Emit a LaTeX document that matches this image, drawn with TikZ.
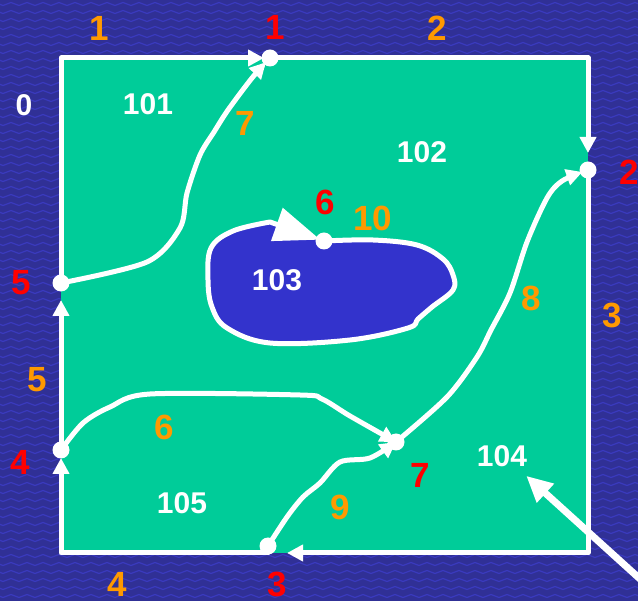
\documentclass[tikz,border=0pt]{standalone}
\usepackage{fontspec}
\setmainfont{Liberation Sans}
\usetikzlibrary{arrows.meta,decorations.pathmorphing}
\definecolor{slideblue}{RGB}{48,48,150}
\definecolor{waveblue}{RGB}{58,58,190}
\definecolor{regiongreen}{RGB}{0,204,153}
\definecolor{holeblue}{RGB}{51,51,204}
\definecolor{edgeorange}{RGB}{255,153,0}
\definecolor{vertexred}{RGB}{255,0,0}

\tikzset{
  vtx/.style={circle, fill=white, inner sep=0pt, minimum size=17pt},
  edge/.style={white, line width=5pt, line cap=round, line join=round},
  arr/.style={-{Triangle[length=16pt,width=16pt]}},
  vlab/.style={text=vertexred, inner sep=1pt, font=\fontsize{35}{35}\selectfont\bfseries},
  elab/.style={text=edgeorange, inner sep=1pt, font=\fontsize{35}{35}\selectfont\bfseries},
  flab/.style={text=white, inner sep=2pt, font=\fontsize{30}{30}\selectfont\bfseries},
}

\begin{document}
\begin{tikzpicture}[x=1pt, y=-1pt]
\useasboundingbox (0,0) rectangle (638,601);
\fill[slideblue] (0,0) rectangle (638,601);
\foreach \y in {4,12,...,600}
  \draw[waveblue, line width=1.2pt, decorate, decoration={snake, amplitude=1.5pt, segment length=16pt}] (-10,\y) -- (650,\y);

% square and vertices
\coordinate (tl) at (61,58);
\coordinate (tr) at (588,58);
\coordinate (br) at (588,553);
\coordinate (bl) at (61,553);
\fill[regiongreen] (tl) rectangle (br);

\coordinate (v1) at (270,58);
\coordinate (v2) at (588,170);
\coordinate (v3) at (268,546);
\coordinate (v4) at (61,450);
\coordinate (v5) at (61,283);
\coordinate (v6) at (324,241);
\coordinate (v7) at (396,442);

% hole, edge 10
\draw[edge, fill=holeblue, -{Triangle[length=46pt,width=34pt]}, shorten >=4pt]
  plot[smooth, tension=0.6] coordinates {(v6) (373,240) (417,245) (443,259) (453,275) (453,290) (432,307) (418,319) (408,328) (350,340) (270,343) (227,328) (212,307) (208,280) (211,248) (233,231) (270,222)} -- (v6);

% outer edges 1-5
\draw[edge, arr, shorten >=6pt] (v5) -- (tl) -- (v1);
\draw[edge, arr, shorten >=17pt] (v1) -- (tr) -- (v2);
\draw[edge, arr, shorten >=19pt] (v2) -- (br) -- (v3 |- br);
\draw[edge, arr, shorten >=8pt] (v3 |- br) -- (bl) -- (v4);
\draw[edge, arr, shorten >=17pt] (v4) -- (v5);

% inner edges 6-9
\draw[edge, arr] plot[smooth, tension=0.5] coordinates {(v4) (83,423) (110,407) (150,394) (300,395) (322,399) (350,416) (v7)};
\draw[edge, arr, shorten >=6pt] plot[smooth, tension=0.5] coordinates {(v5) (147,262) (180,228) (187,193) (200,155) (214,132) (228,110) (252,78) (v1)};
\draw[edge, arr, shorten >=6pt] plot[smooth, tension=0.5] coordinates {(v7) (447,397) (477,357) (491,330) (510,293) (527,242) (547,198) (562,181) (v2)};
\draw[edge, arr] plot[smooth, tension=0.5] coordinates {(v3) (287,517) (303,497) (320,483) (340,462) (370,458) (v7)};

\foreach \v in {1,...,7}
  \node[vtx] (d\v) at (v\v) {};

% vertex labels
\node[vlab] (n1) at (275,27) {1};
\node[vlab] (n2) at (629,172) {2};
\node[vlab] (n3) at (277,584) {3};
\node[vlab] (n4) at (20,462) {4};
\node[vlab] (n5) at (21,283) {5};
\node[vlab] (n6) at (325,202) {6};
\node[vlab] (n7) at (420,475) {7};

% edge labels
\node[elab] (e1) at (99,28) {1};
\node[elab] (e2) at (437,28) {2};
\node[elab] (e3) at (612,315) {3};
\node[elab] (e4) at (117,584) {4};
\node[elab] (e5) at (37,380) {5};
\node[elab] (e6) at (164,427) {6};
\node[elab] (e7) at (245,123) {7};
\node[elab] (e8) at (531,298) {8};
\node[elab] (e9) at (340,507) {9};
\node[elab] (e10) at (373,218) {10};

% face labels
\node[flab] (f0) at (24,105) {0};
\node[flab] (f101) at (148,104) {101};
\node[flab] (f102) at (422,152) {102};
\node[flab] (f103) at (277,280) {103};
\node[flab] (f104) at (502,456) {104};
\node[flab] (f105) at (182,503) {105};

\coordinate (tail) at (650,588);
\draw[white, line width=7pt, -{Triangle[length=26pt,width=24pt]}] (tail) -- ([xshift=-3pt,yshift=-7pt]f104.south east);
\end{tikzpicture}
\end{document}
